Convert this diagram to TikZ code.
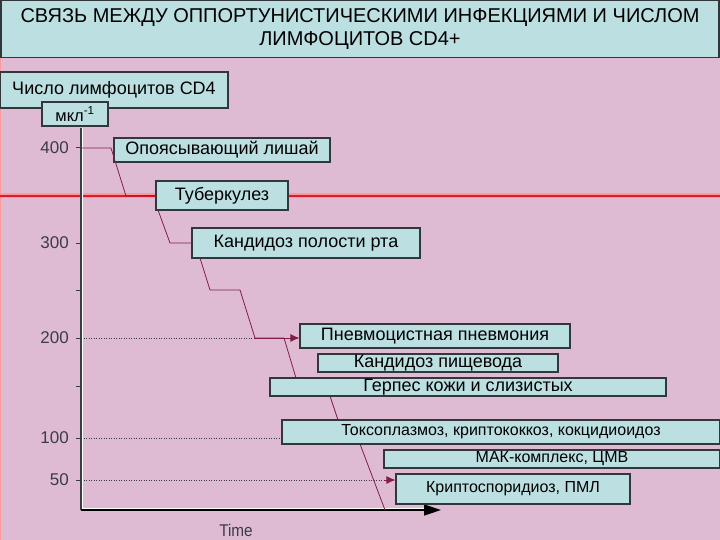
\documentclass[tikz,border=0pt]{standalone}
\usepackage{fontspec}
\setmainfont{Liberation Sans}
\newfontfamily\narrowfont[FakeStretch=0.90]{Liberation Sans}
\usetikzlibrary{arrows.meta}
\definecolor{bgpink}{RGB}{222,187,211}
\definecolor{boxcyan}{RGB}{188,224,226}
\definecolor{boxedge}{RGB}{50,55,60}
\definecolor{maroon}{RGB}{130,30,70}
\definecolor{redline}{RGB}{225,25,40}
\definecolor{axisgray}{RGB}{60,60,70}
\tikzset{
  box/.style={draw=boxedge, line width=1.2pt, fill=boxcyan, inner sep=0pt, font=\fontsize{18}{20}\selectfont},
  smallbox/.style={box, font=\fontsize{16}{18}\selectfont},
  conn/.style={draw=maroon, line width=0.8pt},
  dots/.style={draw=axisgray, line width=0.5pt, dash pattern=on 1pt off 1.5pt},
  tick/.style={draw=axisgray, line width=1pt},
  ticklabel/.style={anchor=east, inner sep=0pt, font=\fontsize{17}{17}\selectfont, text=axisgray},
  arr/.style={-{Latex[length=9pt,width=8pt]}}
}
\begin{document}
\begin{tikzpicture}[x=1pt,y=-1pt]
\useasboundingbox (0,0) rectangle (720,540);
\fill[bgpink] (0,0) rectangle (720,540);
\draw[red!40, line width=1.2pt] (0.6,58) -- (0.6,540);
% title
\node[draw=boxedge, line width=1.4pt, fill=boxcyan, minimum width=718pt, minimum height=57pt, inner sep=0pt, align=center, font=\fontsize{20}{23}\selectfont] (title) at (360,29)
  {СВЯЗЬ МЕЖДУ ОППОРТУНИСТИЧЕСКИМИ ИНФЕКЦИЯМИ И ЧИСЛОМ\\ЛИМФОЦИТОВ CD4+};
% red line
\draw[red!40, line width=5pt] (0,196) -- (720,196);
\draw[redline, line width=2.6pt] (0,196) -- (720,196);
% axis
\coordinate (ytop) at (81,128);
\coordinate (orig) at (81,510);
\coordinate (xend) at (441,510);
\draw[white, line width=1pt] (82.5,128) -- (82.5,508.5) -- (425,508.5);
\draw[axisgray, line width=1.2pt] (ytop) -- (orig);
\draw[black, line width=1.4pt, -{Triangle[length=17pt,width=11pt]}] (orig) -- (xend);
\node[font=\narrowfont\fontsize{17}{17}\selectfont, text=axisgray] (time) at (236,530) {Time};
% ticks
\foreach \v/\y in {400/148, 300/243, 250/290, 200/338, 150/386, 100/438, 50/480}{
  \coordinate (t\v) at (81,\y);
  \draw[tick] (76,\y) -- (t\v);
}
\foreach \v/\y in {400/148, 300/243, 200/338, 100/438, 50/480}{
  \node[ticklabel] (l\v) at (69,\y) {\v};
}
% y-axis label boxes
\node[box, minimum width=228pt, minimum height=36pt] (ylab) at (114,90) {Число лимфоцитов CD4};
\node[box, minimum width=66pt, minimum height=24pt, font=\fontsize{16.5}{18}\selectfont] (unit) at (75,114) {мкл\textsuperscript{-1}};
% dotted lines
\draw[dots] (t200) -- (255,338);
\draw[dots] (t100) -- (282,438);
\draw[dots] (t50) -- (384,480);
% step connector
\coordinate (a1) at (111,148);
\coordinate (a2) at (126,196);
\coordinate (b1) at (158,210);
\coordinate (b2) at (170,243);
\coordinate (c1) at (200,258);
\coordinate (c2) at (210,290);
\coordinate (c3) at (240,290);
\coordinate (c4) at (255,338);
\coordinate (d1) at (284,338);
\coordinate (d2) at (296,378);
\coordinate (d3) at (330,396);
\coordinate (d4) at (338,420);
\coordinate (d5) at (360,444);
\coordinate (d6) at (385,510);
% boxes
\node[box, minimum width=216pt, minimum height=24pt] (zoster) at (222,150) {Опоясывающий лишай};
\node[box, minimum width=132pt, minimum height=29pt] (tb) at (222,195.5) {Туберкулез};
\node[box, minimum width=228pt, minimum height=30pt] (oral) at (306,243) {Кандидоз полости рта};
\draw[conn] (t400) -- (a1) -- (a2) -- (tb.west);
\draw[conn] (b1) -- (b2) -- (oral.west);
\draw[conn] (c1) -- (c2) -- (c3) -- (c4) -- (d1);
\draw[conn] (d1) -- (d2) -- (d3) -- (d4) -- (d5) -- (d6);
\node[box, minimum width=270pt, minimum height=24pt] (pcp) at (435,336) {Пневмоцистная пневмония};
\draw[conn, arr] (c4) -- (pcp.west |- c4);
\node[box, minimum width=240pt, minimum height=18pt] (esoph) at (438,363) {Кандидоз пищевода};
\node[box, minimum width=396pt, minimum height=18pt] (herpes) at (468,387) {Герпес кожи и слизистых};
\node[smallbox, minimum width=438pt, minimum height=24pt] (toxo) at (501,432) {Токсоплазмоз, криптококкоз, кокцидиоидоз};
\node[smallbox, minimum width=336pt, minimum height=18pt] (mac) at (552,459) {МАК-комплекс, ЦМВ};
\node[smallbox, minimum width=234pt, minimum height=30pt] (crypto) at (513,489) {Криптоспоридиоз, ПМЛ};
\draw[conn, arr] (384,480) -- (crypto.west |- t50);
\end{tikzpicture}
\end{document}
